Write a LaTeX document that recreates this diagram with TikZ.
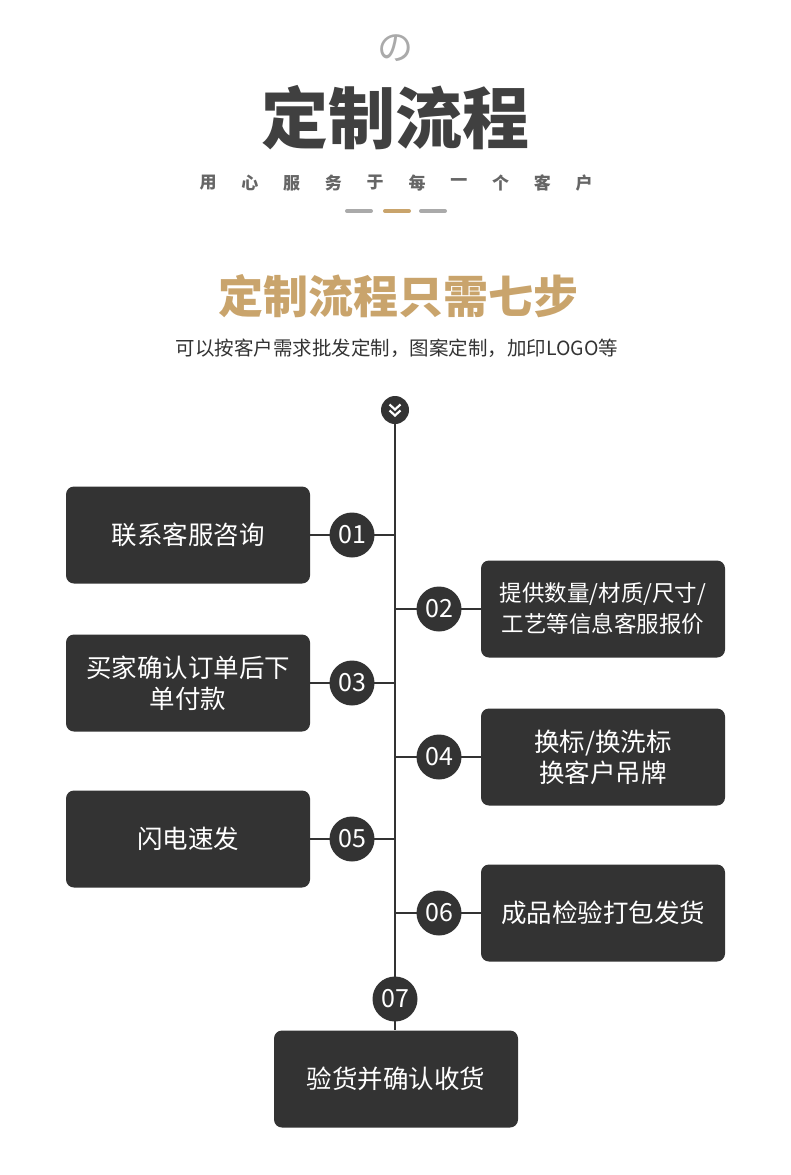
\documentclass[tikz,border=0pt]{standalone}
\usepackage{fontspec}
\setmainfont{Noto Sans CJK SC}
\definecolor{boxgray}{HTML}{333333}
\definecolor{titlegray}{HTML}{404040}
\definecolor{lightgray}{HTML}{AAAAAA}
\definecolor{midgray}{HTML}{666666}
\definecolor{tan}{HTML}{C9A46C}

\begin{document}
\begin{tikzpicture}[x=1pt, y=-1pt,
  stepbox/.style={fill=boxgray, rounded corners=8pt, minimum width=244pt,
    minimum height=97pt, text=white, align=center, inner sep=0pt,
    font=\fontsize{25.5}{31}\selectfont},
  numdot/.style={circle, fill=boxgray, minimum size=45pt, inner sep=0pt,
    text=white, font=\fontsize{25}{25}\selectfont},
  link/.style={boxgray, line width=1.2pt}]
\useasboundingbox (0,0) rectangle (790,1175);
% ---------- heading ----------
\node[lightgray, font=\fontsize{36}{36}\selectfont] (no) at (395,48) {の};
\node[titlegray, font=\fontsize{67}{67}\selectfont\bfseries] (title) at (395,118) {定制流程};
\foreach \c [count=\i from 0] in {用,心,服,务,于,每,一,个,客,户}
  \node[midgray, font=\fontsize{17}{17}\selectfont\bfseries] (s\i) at (208+\i*41.8,183) {\c};
\draw[lightgray, line width=4pt, line cap=round] (347,211) -- (371,211);
\draw[tan, line width=4pt, line cap=round] (385,211) -- (409,211);
\draw[lightgray, line width=4pt, line cap=round] (421,211) -- (445,211);
\node[tan, font=\fontsize{45}{45}\selectfont\bfseries] (sub) at (398,296) {定制流程只需七步};
\node[boxgray, font=\fontsize{19.5}{20}\selectfont] (note) at (397,348) {可以按客户需求批发定制，图案定制，加印LOGO等};
% ---------- steps ----------
\node[circle, fill=boxgray, minimum size=28pt, inner sep=0pt] (top) at (395,410) {};
\draw[white, line width=2.2pt] (389.5,404.5) -- (395,409.5) -- (400.5,404.5);
\draw[white, line width=2.2pt] (389.5,410.5) -- (395,415.5) -- (400.5,410.5);
\node[stepbox] (b1) at (188,535) {联系客服咨询};
\node[stepbox, font=\fontsize{22.5}{31}\selectfont] (b2) at (603,609) {提供数量/材质/尺寸/\\工艺等信息客服报价};
\node[stepbox] (b3) at (188,683) {买家确认订单后下\\单付款};
\node[stepbox] (b4) at (603,757) {换标/换洗标\\换客户吊牌};
\node[stepbox] (b5) at (188,839) {闪电速发};
\node[stepbox] (b6) at (603,913) {成品检验打包发货};
\node[stepbox] (b7) at (396,1079) {验货并确认收货};
\coordinate (a1) at (395,535);
\coordinate (a2) at (395,609);
\coordinate (a3) at (395,683);
\coordinate (a4) at (395,757);
\coordinate (a5) at (395,839);
\coordinate (a6) at (395,913);
% axis and branches
\draw[link] (top.south) -- (b7.north -| top.south);
\draw[link] (b1.east) -- (a1);
\draw[link] (b2.west) -- (a2);
\draw[link] (b3.east) -- (a3);
\draw[link] (b4.west) -- (a4);
\draw[link] (b5.east) -- (a5);
\draw[link] (b6.west) -- (a6);
\node[numdot] (n1) at (352,535) {01};
\node[numdot] (n2) at (439,609) {02};
\node[numdot] (n3) at (352,683) {03};
\node[numdot] (n4) at (439,757) {04};
\node[numdot] (n5) at (352,839) {05};
\node[numdot] (n6) at (439,913) {06};
\node[numdot] (n7) at (395,999) {07};
\end{tikzpicture}
\end{document}
